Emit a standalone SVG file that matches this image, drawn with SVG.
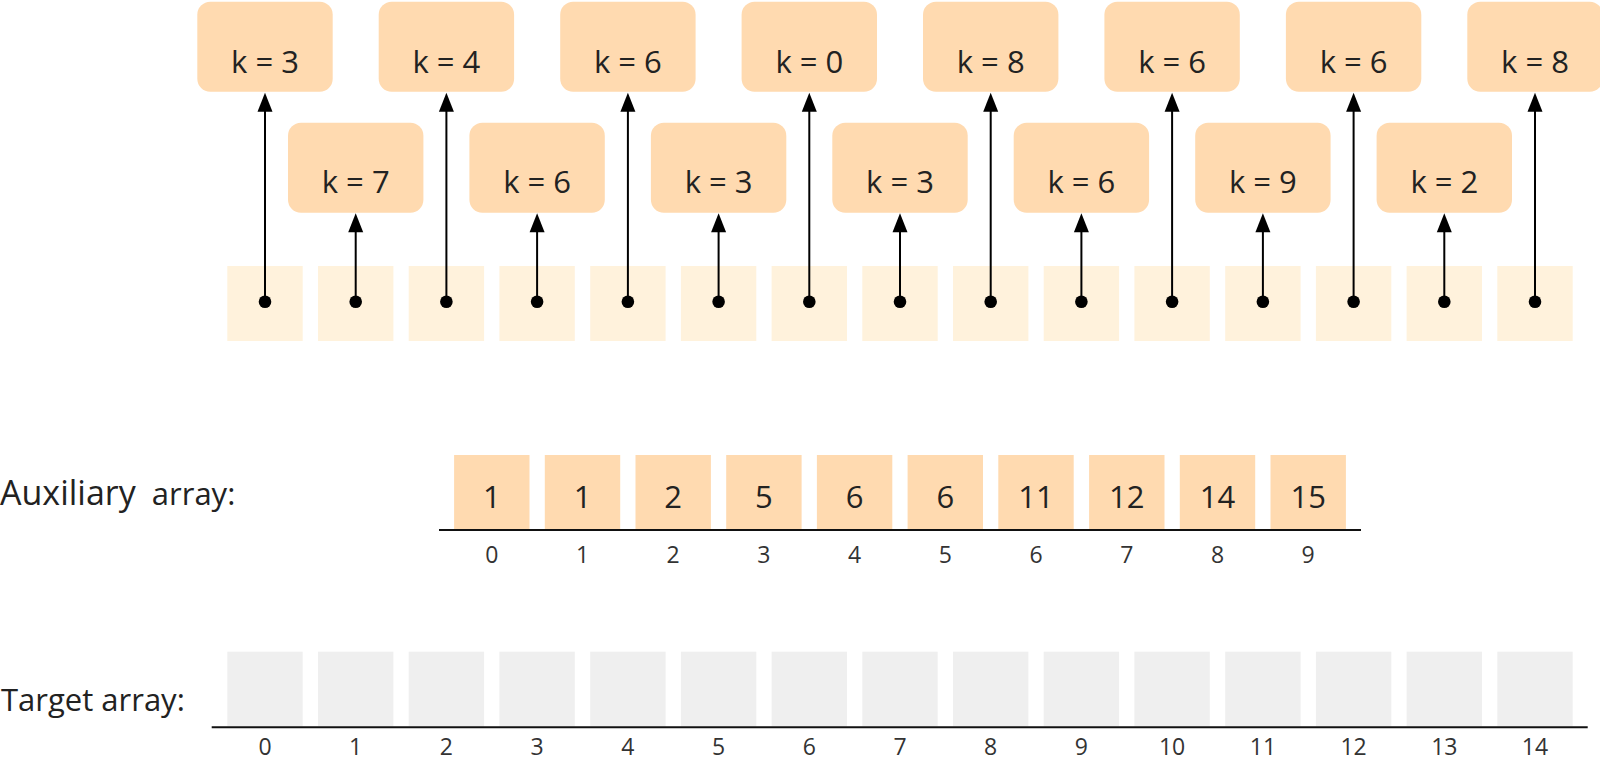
<svg xmlns="http://www.w3.org/2000/svg" width="1600" height="760" viewBox="0 0 1600 760">
<style>
text{font-family:"Open Sans","Liberation Sans",sans-serif;fill:#222;text-anchor:middle}
.box{fill:#ffdab0}
.k{font-size:31px}
.src{fill:#fff2dc}
.aux{fill:#ffdab0}
.tgt{fill:#efefef}
.val{font-size:31px}
.idx{font-size:23px;fill:#333}
.conn line{stroke:#000;stroke-width:2}
.conn polygon,.conn circle{fill:#000}
.axis{stroke:#111;stroke-width:2}
.lbl{text-anchor:start}
</style>
<rect width="1600" height="760" fill="#fff"/>
<g id="source-cells">
<rect class="src" x="227.3" y="266" width="75.4" height="75"/>
<rect class="src" x="318.0" y="266" width="75.4" height="75"/>
<rect class="src" x="408.7" y="266" width="75.4" height="75"/>
<rect class="src" x="499.4" y="266" width="75.4" height="75"/>
<rect class="src" x="590.2" y="266" width="75.4" height="75"/>
<rect class="src" x="680.9" y="266" width="75.4" height="75"/>
<rect class="src" x="771.6" y="266" width="75.4" height="75"/>
<rect class="src" x="862.3" y="266" width="75.4" height="75"/>
<rect class="src" x="953.0" y="266" width="75.4" height="75"/>
<rect class="src" x="1043.7" y="266" width="75.4" height="75"/>
<rect class="src" x="1134.4" y="266" width="75.4" height="75"/>
<rect class="src" x="1225.2" y="266" width="75.4" height="75"/>
<rect class="src" x="1315.9" y="266" width="75.4" height="75"/>
<rect class="src" x="1406.6" y="266" width="75.4" height="75"/>
<rect class="src" x="1497.3" y="266" width="75.4" height="75"/>
</g>
<g id="node-0"><rect class="box" x="197.3" y="1.7" width="135.4" height="90" rx="13"/><text class="k" x="265.0" y="72.7">k = 3</text></g>
<g id="node-1"><rect class="box" x="288.0" y="122.7" width="135.4" height="90" rx="13"/><text class="k" x="355.7" y="193.3">k = 7</text></g>
<g id="node-2"><rect class="box" x="378.7" y="1.7" width="135.4" height="90" rx="13"/><text class="k" x="446.4" y="72.7">k = 4</text></g>
<g id="node-3"><rect class="box" x="469.4" y="122.7" width="135.4" height="90" rx="13"/><text class="k" x="537.1" y="193.3">k = 6</text></g>
<g id="node-4"><rect class="box" x="560.2" y="1.7" width="135.4" height="90" rx="13"/><text class="k" x="627.9" y="72.7">k = 6</text></g>
<g id="node-5"><rect class="box" x="650.9" y="122.7" width="135.4" height="90" rx="13"/><text class="k" x="718.6" y="193.3">k = 3</text></g>
<g id="node-6"><rect class="box" x="741.6" y="1.7" width="135.4" height="90" rx="13"/><text class="k" x="809.3" y="72.7">k = 0</text></g>
<g id="node-7"><rect class="box" x="832.3" y="122.7" width="135.4" height="90" rx="13"/><text class="k" x="900.0" y="193.3">k = 3</text></g>
<g id="node-8"><rect class="box" x="923.0" y="1.7" width="135.4" height="90" rx="13"/><text class="k" x="990.7" y="72.7">k = 8</text></g>
<g id="node-9"><rect class="box" x="1013.7" y="122.7" width="135.4" height="90" rx="13"/><text class="k" x="1081.4" y="193.3">k = 6</text></g>
<g id="node-10"><rect class="box" x="1104.4" y="1.7" width="135.4" height="90" rx="13"/><text class="k" x="1172.1" y="72.7">k = 6</text></g>
<g id="node-11"><rect class="box" x="1195.2" y="122.7" width="135.4" height="90" rx="13"/><text class="k" x="1262.9" y="193.3">k = 9</text></g>
<g id="node-12"><rect class="box" x="1285.9" y="1.7" width="135.4" height="90" rx="13"/><text class="k" x="1353.6" y="72.7">k = 6</text></g>
<g id="node-13"><rect class="box" x="1376.6" y="122.7" width="135.4" height="90" rx="13"/><text class="k" x="1444.3" y="193.3">k = 2</text></g>
<g id="node-14"><rect class="box" x="1467.3" y="1.7" width="135.4" height="90" rx="13"/><text class="k" x="1535.0" y="72.7">k = 8</text></g>
<g id="connectors" class="conn">
<line x1="265.0" y1="301.7" x2="265.0" y2="110"/><polygon points="265.0,92.7 257.5,111.7 272.5,111.7"/><circle cx="265.0" cy="301.7" r="6.3"/>
<line x1="355.7" y1="301.7" x2="355.7" y2="231"/><polygon points="355.7,213.3 348.2,232.3 363.2,232.3"/><circle cx="355.7" cy="301.7" r="6.3"/>
<line x1="446.4" y1="301.7" x2="446.4" y2="110"/><polygon points="446.4,92.7 438.9,111.7 453.9,111.7"/><circle cx="446.4" cy="301.7" r="6.3"/>
<line x1="537.1" y1="301.7" x2="537.1" y2="231"/><polygon points="537.1,213.3 529.6,232.3 544.6,232.3"/><circle cx="537.1" cy="301.7" r="6.3"/>
<line x1="627.9" y1="301.7" x2="627.9" y2="110"/><polygon points="627.9,92.7 620.4,111.7 635.4,111.7"/><circle cx="627.9" cy="301.7" r="6.3"/>
<line x1="718.6" y1="301.7" x2="718.6" y2="231"/><polygon points="718.6,213.3 711.1,232.3 726.1,232.3"/><circle cx="718.6" cy="301.7" r="6.3"/>
<line x1="809.3" y1="301.7" x2="809.3" y2="110"/><polygon points="809.3,92.7 801.8,111.7 816.8,111.7"/><circle cx="809.3" cy="301.7" r="6.3"/>
<line x1="900.0" y1="301.7" x2="900.0" y2="231"/><polygon points="900.0,213.3 892.5,232.3 907.5,232.3"/><circle cx="900.0" cy="301.7" r="6.3"/>
<line x1="990.7" y1="301.7" x2="990.7" y2="110"/><polygon points="990.7,92.7 983.2,111.7 998.2,111.7"/><circle cx="990.7" cy="301.7" r="6.3"/>
<line x1="1081.4" y1="301.7" x2="1081.4" y2="231"/><polygon points="1081.4,213.3 1073.9,232.3 1088.9,232.3"/><circle cx="1081.4" cy="301.7" r="6.3"/>
<line x1="1172.1" y1="301.7" x2="1172.1" y2="110"/><polygon points="1172.1,92.7 1164.6,111.7 1179.6,111.7"/><circle cx="1172.1" cy="301.7" r="6.3"/>
<line x1="1262.9" y1="301.7" x2="1262.9" y2="231"/><polygon points="1262.9,213.3 1255.4,232.3 1270.4,232.3"/><circle cx="1262.9" cy="301.7" r="6.3"/>
<line x1="1353.6" y1="301.7" x2="1353.6" y2="110"/><polygon points="1353.6,92.7 1346.1,111.7 1361.1,111.7"/><circle cx="1353.6" cy="301.7" r="6.3"/>
<line x1="1444.3" y1="301.7" x2="1444.3" y2="231"/><polygon points="1444.3,213.3 1436.8,232.3 1451.8,232.3"/><circle cx="1444.3" cy="301.7" r="6.3"/>
<line x1="1535.0" y1="301.7" x2="1535.0" y2="110"/><polygon points="1535.0,92.7 1527.5,111.7 1542.5,111.7"/><circle cx="1535.0" cy="301.7" r="6.3"/>
</g>
<g id="auxiliary-array">
<text class="lbl" x="0" y="505"><tspan font-size="34">Auxiliary</tspan><tspan font-size="31" xml:space="preserve">  array:</tspan></text>
<rect class="aux" x="454.1" y="455" width="75.4" height="74.5"/><text class="val" x="491.8" y="507.7">1</text>
<rect class="aux" x="544.8" y="455" width="75.4" height="74.5"/><text class="val" x="582.5" y="507.7">1</text>
<rect class="aux" x="635.5" y="455" width="75.4" height="74.5"/><text class="val" x="673.2" y="507.7">2</text>
<rect class="aux" x="726.2" y="455" width="75.4" height="74.5"/><text class="val" x="763.9" y="507.7">5</text>
<rect class="aux" x="816.9" y="455" width="75.4" height="74.5"/><text class="val" x="854.6" y="507.7">6</text>
<rect class="aux" x="907.6" y="455" width="75.4" height="74.5"/><text class="val" x="945.3" y="507.7">6</text>
<rect class="aux" x="998.3" y="455" width="75.4" height="74.5"/><text class="val" x="1036.0" y="507.7">11</text>
<rect class="aux" x="1089.1" y="455" width="75.4" height="74.5"/><text class="val" x="1126.8" y="507.7">12</text>
<rect class="aux" x="1179.8" y="455" width="75.4" height="74.5"/><text class="val" x="1217.5" y="507.7">14</text>
<rect class="aux" x="1270.5" y="455" width="75.4" height="74.5"/><text class="val" x="1308.2" y="507.7">15</text>
<line class="axis" x1="439" y1="530" x2="1361" y2="530"/>
<text class="idx" x="491.8" y="562.7">0</text>
<text class="idx" x="582.5" y="562.7">1</text>
<text class="idx" x="673.2" y="562.7">2</text>
<text class="idx" x="763.9" y="562.7">3</text>
<text class="idx" x="854.6" y="562.7">4</text>
<text class="idx" x="945.3" y="562.7">5</text>
<text class="idx" x="1036.0" y="562.7">6</text>
<text class="idx" x="1126.8" y="562.7">7</text>
<text class="idx" x="1217.5" y="562.7">8</text>
<text class="idx" x="1308.2" y="562.7">9</text>
</g>
<g id="target-array">
<text class="lbl" x="1" y="710.7" font-size="31">Target array:</text>
<rect class="tgt" x="227.3" y="651.7" width="75.4" height="74.6"/>
<rect class="tgt" x="318.0" y="651.7" width="75.4" height="74.6"/>
<rect class="tgt" x="408.7" y="651.7" width="75.4" height="74.6"/>
<rect class="tgt" x="499.4" y="651.7" width="75.4" height="74.6"/>
<rect class="tgt" x="590.2" y="651.7" width="75.4" height="74.6"/>
<rect class="tgt" x="680.9" y="651.7" width="75.4" height="74.6"/>
<rect class="tgt" x="771.6" y="651.7" width="75.4" height="74.6"/>
<rect class="tgt" x="862.3" y="651.7" width="75.4" height="74.6"/>
<rect class="tgt" x="953.0" y="651.7" width="75.4" height="74.6"/>
<rect class="tgt" x="1043.7" y="651.7" width="75.4" height="74.6"/>
<rect class="tgt" x="1134.4" y="651.7" width="75.4" height="74.6"/>
<rect class="tgt" x="1225.2" y="651.7" width="75.4" height="74.6"/>
<rect class="tgt" x="1315.9" y="651.7" width="75.4" height="74.6"/>
<rect class="tgt" x="1406.6" y="651.7" width="75.4" height="74.6"/>
<rect class="tgt" x="1497.3" y="651.7" width="75.4" height="74.6"/>
<line class="axis" x1="211.7" y1="727.3" x2="1587.7" y2="727.3"/>
<text class="idx" x="265.0" y="755">0</text>
<text class="idx" x="355.7" y="755">1</text>
<text class="idx" x="446.4" y="755">2</text>
<text class="idx" x="537.1" y="755">3</text>
<text class="idx" x="627.9" y="755">4</text>
<text class="idx" x="718.6" y="755">5</text>
<text class="idx" x="809.3" y="755">6</text>
<text class="idx" x="900.0" y="755">7</text>
<text class="idx" x="990.7" y="755">8</text>
<text class="idx" x="1081.4" y="755">9</text>
<text class="idx" x="1172.1" y="755">10</text>
<text class="idx" x="1262.9" y="755">11</text>
<text class="idx" x="1353.6" y="755">12</text>
<text class="idx" x="1444.3" y="755">13</text>
<text class="idx" x="1535.0" y="755">14</text>
</g>
</svg>
